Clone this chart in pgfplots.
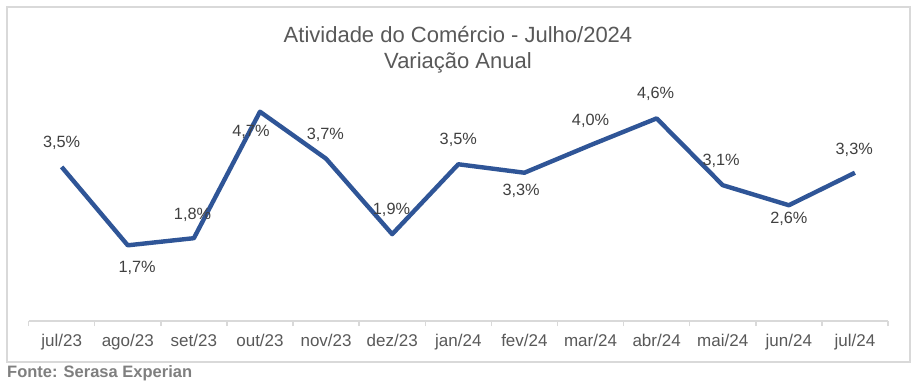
\documentclass[border=0pt]{standalone}
\usepackage{fontspec}
\setmainfont{Liberation Sans}
\usepackage{pgfplots}
\usepackage{pgfplotstable}
\pgfplotsset{compat=1.18}
\definecolor{lineblue}{RGB}{47,85,151}
\definecolor{txtgray}{RGB}{89,89,89}
\definecolor{lblgray}{RGB}{64,64,64}
\definecolor{axgray}{RGB}{217,217,217}
\definecolor{srcgray}{RGB}{127,127,127}
\pgfplotstableread{
x y lab dx dy
0 3.46 3,5 0 23.7
1 1.70 1,7 9.4 -22.4
2 1.86 1,8 -1.3 23.3
3 4.70 4,7 -9 -20
4 3.645 3,7 -0.7 23.7
5 1.95 1,9 -0.7 24
6 3.52 3,5 0 24.5
7 3.33 3,3 -3.3 -18.3
8 3.95 4,0 0 24.7
9 4.55 4,6 -1 24.6
10 3.05 3,1 -1.6 24
11 2.60 2,6 0 -13.4
12 3.33 3,3 -0.7 22.7
}\datatable
\begin{document}
\begin{tikzpicture}
\path[use as bounding box] (0pt,0pt) rectangle (918pt,-388pt);
\fill[white] (0pt,0pt) rectangle (918pt,-388pt);
\draw[axgray, line width=2pt] (7pt,-7pt) rectangle (910pt,-362pt);
\node[anchor=base, text=txtgray, font=\fontsize{22}{26}\selectfont, inner sep=0pt] at (458pt,-42pt) {Atividade do Comércio - Julho/2024};
\node[anchor=base, text=txtgray, font=\fontsize{22}{26}\selectfont, inner sep=0pt] at (458pt,-68pt) {Variação Anual};
\node[anchor=west, text=srcgray, font=\fontsize{16.5}{20}\selectfont\bfseries, inner sep=0pt] at (7pt,-373pt) {Fonte: Serasa Experian};
\begin{axis}[
  at={(28.6pt,-321pt)}, anchor=south west,
  scale only axis, width=859.4pt, height=244.9pt,
  xmin=-0.5, xmax=12.5, ymin=0, ymax=5.5,
  axis y line=none,
  axis x line*=bottom,
  x axis line style={axgray, line width=1.5pt},
  xtick={0,...,12},
  xticklabels={jul/23,ago/23,set/23,out/23,nov/23,dez/23,jan/24,fev/24,mar/24,abr/24,mai/24,jun/24,jul/24},
  major tick length=0pt,
  xticklabel style={anchor=base, yshift=-25pt, text=txtgray, font=\fontsize{17}{20}\selectfont},
  extra x ticks={-0.5,0.5,1.5,2.5,3.5,4.5,5.5,6.5,7.5,8.5,9.5,10.5,11.5,12.5},
  extra x tick labels={},
  extra x tick style={major tick length=5pt, tick align=outside, tick style={axgray, line width=1.5pt}},
  clip=false,
]
\addplot[color=lineblue, line width=4.4pt, line join=round, mark=none,
  nodes near coords={\pgfplotspointmeta\%},
  point meta=explicit symbolic,
  visualization depends on={\thisrow{dx} \as \labdx},
  visualization depends on={\thisrow{dy} \as \labdy},
  every node near coord/.append style={anchor=center, inner sep=0pt, xshift=\labdx pt, yshift=\labdy pt, text=lblgray, font=\fontsize{16.3}{19}\selectfont},
] table[x=x, y=y, meta=lab] {\datatable};
\end{axis}
\end{tikzpicture}
\end{document}
